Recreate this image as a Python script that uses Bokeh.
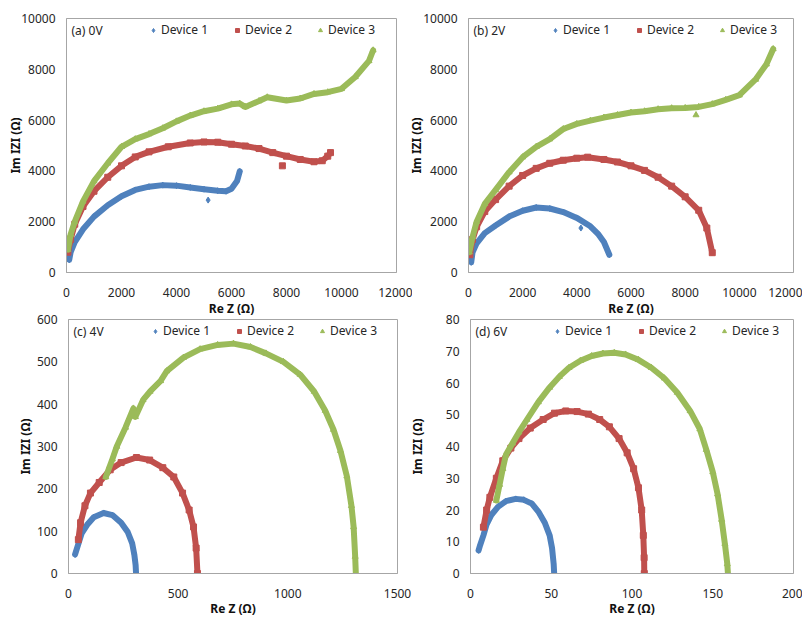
from bokeh.plotting import figure
from bokeh.models import Range1d, Legend, LegendItem, Label, FixedTicker
from bokeh.layouts import row, column
from bokeh.embed import file_html
from bokeh.resources import INLINE

# ---------------- data ----------------
# (a) 0V
a_d1_x = [100, 150, 300, 600, 1000, 1500, 2000, 2500, 3000, 3500, 4000, 4500, 5000, 5500, 5800, 6000, 6200, 6300]
a_d1_y = [500, 800, 1200, 1700, 2200, 2650, 3000, 3250, 3380, 3440, 3420, 3350, 3280, 3220, 3200, 3300, 3600, 3980]
a_d1_ox = [5150]
a_d1_oy = [2850]
a_d2_x = [50, 150, 300, 600, 1000, 1500, 2000, 2500, 3000, 3700, 4500, 5000, 5500, 6000, 6500, 7000, 7500, 8000, 8500, 9000, 9300, 9500, 9600]
a_d2_y = [800, 1300, 1900, 2600, 3200, 3750, 4200, 4550, 4750, 4950, 5100, 5140, 5130, 5050, 4980, 4880, 4720, 4580, 4450, 4360, 4400, 4580, 4720]
a_d2_ox = [7850]
a_d2_oy = [4200]
a_d3_x = [50, 150, 300, 600, 1000, 1500, 2000, 2500, 3000, 3500, 4000, 4500, 5000, 5500, 6000, 6300, 6500, 7000, 7300, 8000, 8500, 9000, 9500, 10000, 10500, 11000, 11150]
a_d3_y = [900, 1500, 2000, 2800, 3600, 4300, 4950, 5250, 5450, 5680, 5950, 6180, 6350, 6450, 6620, 6650, 6520, 6750, 6900, 6770, 6850, 7030, 7100, 7230, 7700, 8330, 8750]

# (b) 2V
b_d1_x = [100, 150, 300, 600, 1000, 1500, 2000, 2500, 3000, 3500, 4000, 4500, 4800, 5000, 5200]
b_d1_y = [400, 800, 1150, 1550, 1850, 2200, 2430, 2560, 2520, 2380, 2150, 1820, 1500, 1200, 700]
b_d1_ox = [4150]
b_d1_oy = [1750]
b_d2_x = [50, 150, 300, 600, 1000, 1500, 2000, 2500, 3000, 3500, 4000, 4400, 5000, 5500, 6000, 6500, 7000, 7500, 8000, 8500, 8800, 9000]
b_d2_y = [700, 1300, 1800, 2400, 2870, 3400, 3820, 4100, 4300, 4420, 4500, 4540, 4450, 4350, 4200, 4020, 3750, 3400, 2980, 2450, 1750, 780]
b_d3_x = [30, 150, 300, 600, 1000, 1500, 2000, 2500, 3000, 3500, 4000, 4500, 5000, 5500, 6000, 6500, 7000, 7500, 8000, 8500, 9000, 9500, 10000, 10600, 11000, 11250]
b_d3_y = [800, 1400, 2000, 2700, 3250, 3950, 4540, 4950, 5250, 5650, 5850, 5980, 6100, 6200, 6300, 6350, 6430, 6470, 6480, 6520, 6630, 6800, 6980, 7600, 8200, 8800]
b_d3_ox = [8400]
b_d3_oy = [6200]

# (c) 4V
c_d1_x = [30, 45, 60, 85, 115, 160, 200, 240, 270, 290, 300, 306, 308]
c_d1_y = [45, 70, 95, 115, 133, 143, 138, 120, 98, 72, 45, 20, 0]
c_d2_x = [45, 55, 75, 100, 140, 190, 240, 310, 370, 430, 480, 520, 550, 570, 582, 588]
c_d2_y = [80, 120, 160, 190, 215, 245, 262, 274, 268, 250, 228, 190, 150, 110, 60, 0]
c_d3_x = [170, 200, 220, 260, 296, 305, 340, 372, 420, 448, 524, 600, 680, 752, 830, 900, 980, 1056, 1120, 1170, 1208, 1240, 1269, 1290, 1300, 1307, 1310]
c_d3_y = [228, 270, 300, 345, 390, 370, 410, 430, 455, 478, 510, 530, 540, 543, 535, 520, 500, 470, 430, 385, 340, 290, 230, 160, 110, 40, 0]

# (d) 6V
d_d1_x = [5, 6, 8, 10, 13, 17, 22, 28, 33, 38, 42, 46, 49, 50.5, 51.5, 51.8]
d_d1_y = [7.3, 9, 12, 15.5, 18.5, 21, 22.8, 23.5, 23.2, 22, 19.5, 16, 12, 8, 3, 0]
d_d2_x = [8, 10, 12, 16, 20, 25, 30, 37, 45, 52, 59, 66, 73, 80, 86, 92, 97, 101, 104, 106, 107, 107.5, 107.6]
d_d2_y = [14.6, 20, 24, 30, 35.5, 39.5, 42.5, 45.8, 48.5, 50.5, 51.2, 51, 50.2, 48.5, 46.2, 42.5, 38, 33, 27, 20, 12, 5, 0]
d_d3_x = [16, 18, 20, 22, 26, 30, 35, 42, 49, 55, 61, 68, 75, 82, 89, 96, 104, 112, 120, 128, 136, 142, 146, 150, 153, 155.5, 157.5, 159, 159.4]
d_d3_y = [23, 28, 33, 37.5, 41, 44.5, 48.5, 54, 58.6, 62, 64.8, 67, 68.5, 69.3, 69.5, 69, 67.3, 64.8, 61.5, 57, 51.2, 45.5, 39, 32, 25, 17, 9.4, 3, 0]

series_names = ["Device 1", "Device 2", "Device 3"]
panel_titles = ["(a) 0V", "(b) 2V", "(c) 4V", "(d) 6V"]
ticks_ab_x = [0, 2000, 4000, 6000, 8000, 10000, 12000]
ticks_ab_y = [0, 2000, 4000, 6000, 8000, 10000]
ticks_c_x = [0, 500, 1000, 1500]
ticks_c_y = [0, 100, 200, 300, 400, 500, 600]
ticks_d_x = [0, 50, 100, 150, 200]
ticks_d_y = [0, 10, 20, 30, 40, 50, 60, 70, 80]

# ---------------- styles ----------------
COLORS = ["#4F81BD", "#C0504D", "#9BBB59"]
MARKERS = ["diamond", "square", "triangle"]
FONT = "Noto Sans"
GRAY = "#A6A6A6"
TXT = "#262626"


def make_panel(w, h, bl, br, bt, bb, xr, yr, xt, yt, title, data, ylab_standoff, xlab_standoff, transparent):
    fh = h - bt - bb
    p = figure(width=w, height=h, x_range=Range1d(*xr), y_range=Range1d(*yr),
               output_backend="svg", toolbar_location=None,
               min_border_left=bl, min_border_right=br, min_border_top=bt, min_border_bottom=bb)
    p.background_fill_color = "white"
    p.border_fill_color = "white"
    if transparent:
        p.border_fill_alpha = 0
    p.outline_line_color = GRAY
    p.outline_line_width = 1
    p.grid.visible = False
    p.xaxis.ticker = FixedTicker(ticks=xt)
    p.yaxis.ticker = FixedTicker(ticks=yt)
    for ax in (p.xaxis[0], p.yaxis[0]):
        ax.axis_line_color = GRAY
        ax.major_tick_line_color = None
        ax.minor_tick_line_color = None
        ax.major_tick_out = 0
        ax.major_tick_in = 0
        ax.major_label_text_font = FONT
        ax.major_label_text_font_size = "12px"
        ax.major_label_text_color = TXT
        ax.axis_label_text_font = FONT
        ax.axis_label_text_font_size = "12px"
        ax.axis_label_text_font_style = "bold"
        ax.axis_label_text_color = "#111111"
    p.xaxis.axis_label = "Re Z (Ω)"
    p.yaxis.axis_label = "Im IZI (Ω)"
    p.xaxis.major_label_standoff = 15
    p.yaxis.major_label_standoff = 11
    p.yaxis.axis_label_standoff = ylab_standoff
    p.xaxis.axis_label_standoff = xlab_standoff

    rends = []
    for i, (xs, ys, ox, oy) in enumerate(data):
        p.line(xs, ys, line_color=COLORS[i], line_width=6, line_join="round", line_cap="round")
        r = p.scatter(xs, ys, marker=MARKERS[i], size=6, fill_color=COLORS[i], line_color=COLORS[i])
        if ox:
            p.scatter(ox, oy, marker=MARKERS[i], size=6, fill_color=COLORS[i], line_color=COLORS[i])
        rends.append(r)

    offsets = [82, 166, 249]
    for i, r in enumerate(rends):
        lg = Legend(items=[LegendItem(label=series_names[i], renderers=[r])],
                    location=(offsets[i], fh - 20), orientation="horizontal",
                    padding=0, margin=0, spacing=0, border_line_color=None,
                    background_fill_alpha=0, glyph_width=10, glyph_height=14,
                    label_height=14, label_standoff=3,
                    label_text_font=FONT, label_text_font_size="12px", label_text_color=TXT)
        p.add_layout(lg, "center")
    p.add_layout(Label(x=5, y=fh - 12, x_units="screen", y_units="screen", text=title,
                       text_baseline="middle", text_font=FONT, text_font_size="12px",
                       text_color=TXT))
    return p


pa = make_panel(412, 322, 66, 16, 18, 50, (0, 12000), (0, 10000), ticks_ab_x, ticks_ab_y, panel_titles[0],
                [(a_d1_x, a_d1_y, a_d1_ox, a_d1_oy), (a_d2_x, a_d2_y, a_d2_ox, a_d2_oy), (a_d3_x, a_d3_y, [], [])],
                -6, 0, False)
pb = make_panel(397, 322, 57, 9, 18, 50, (0, 12000), (0, 10000), ticks_ab_x, ticks_ab_y, panel_titles[1],
                [(b_d1_x, b_d1_y, b_d1_ox, b_d1_oy), (b_d2_x, b_d2_y, [], []), (b_d3_x, b_d3_y, b_d3_ox, b_d3_oy)],
                -5, 0, True)
pc = make_panel(412, 312, 68, 15, 9, 49, (0, 1500), (0, 600), ticks_c_x, ticks_c_y, panel_titles[2],
                [(c_d1_x, c_d1_y, [], []), (c_d2_x, c_d2_y, [], []), (c_d3_x, c_d3_y, [], [])],
                0, -1, True)
pd_ = make_panel(397, 312, 60, 9, 9, 49, (0, 200), (0, 80), ticks_d_x, ticks_d_y, panel_titles[3],
                 [(d_d1_x, d_d1_y, [], []), (d_d2_x, d_d2_y, [], []), (d_d3_x, d_d3_y, [], [])],
                 17, -1, True)

pb.margin = (0, 0, 0, -7)
pd_.margin = (0, 0, 0, -7)
row1 = row(pa, pb)
row2 = row(pc, pd_)
row2.margin = (-12, 0, 0, 0)
layout = column(row1, row2)
open("out.html", "w").write(file_html(layout, INLINE))
